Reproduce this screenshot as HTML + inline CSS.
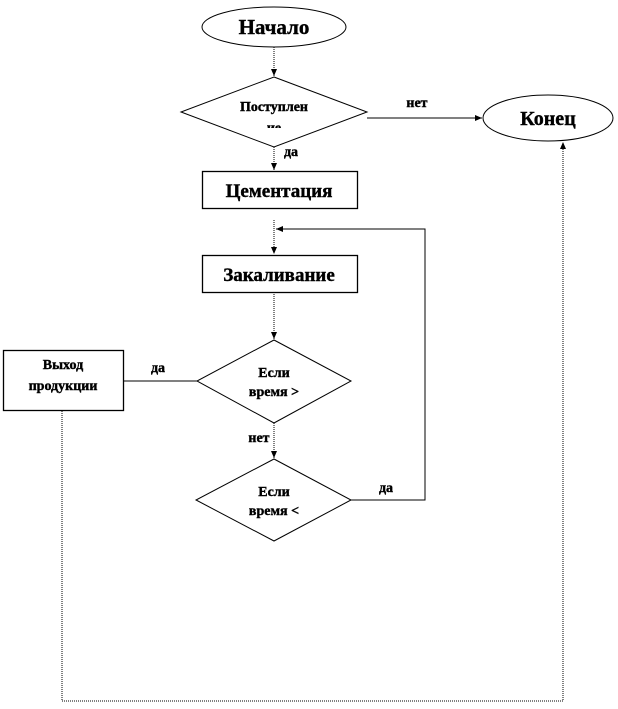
<!DOCTYPE html>
<html><head><meta charset="utf-8"><style>
html,body{margin:0;padding:0;background:#fff;}
text{font-family:"Liberation Serif",serif;font-weight:bold;fill:#000;stroke:#000;stroke-width:0.4;}
</style></head><body>
<svg width="618" height="704" viewBox="0 0 618 704" xmlns="http://www.w3.org/2000/svg">
<defs><marker id="a" markerWidth="8" markerHeight="8" refX="7" refY="4" orient="auto" markerUnits="userSpaceOnUse"><path d="M0,1 L7,4 L0,7 z" fill="#000"/></marker>
<clipPath id="c"><rect x="0" y="0" width="618" height="128"/></clipPath></defs>
<g fill="none" stroke="#000" stroke-width="1">
<ellipse cx="274" cy="27" rx="72" ry="20"/>
<polygon points="274,77 367,112 274,147 181,112"/>
<ellipse cx="548" cy="118" rx="65" ry="23"/>
<rect x="202.5" y="171.5" width="155" height="37" stroke-width="1.3"/>
<rect x="202.5" y="255.5" width="155" height="37" stroke-width="1.3"/>
<polygon points="274,340 351,381 274,423 197,381"/>
<polygon points="274,459 351,500 274,541 196,500"/>
<rect x="3.5" y="350.5" width="120" height="60" stroke-width="1.3"/>
<line x1="274" y1="47" x2="274" y2="76" stroke-dasharray="1,1" marker-end="url(#a)"/>
<line x1="367" y1="118" x2="482" y2="118" marker-end="url(#a)"/>
<line x1="274" y1="147" x2="274" y2="170" stroke-dasharray="1,1" marker-end="url(#a)"/>
<line x1="274" y1="220" x2="274" y2="254" stroke-dasharray="1,1" marker-end="url(#a)"/>
<line x1="274" y1="292" x2="274" y2="339" stroke-dasharray="1,1" marker-end="url(#a)"/>
<line x1="274" y1="423" x2="274" y2="458" stroke-dasharray="1,1" marker-end="url(#a)"/>
<line x1="123" y1="381" x2="197" y2="381"/>
<polyline points="351,500 425,500 425,229 276,229" marker-end="url(#a)"/>
<polyline points="62,411 62,701 563,701 563,142" stroke-dasharray="1,1" marker-end="url(#a)"/>
</g>
<text x="274" y="34" font-size="21" text-anchor="middle">Начало</text>
<text x="548" y="125" font-size="20" text-anchor="middle">Конец</text>
<text x="274" y="111" font-size="14" text-anchor="middle">Поступлен</text>
<text x="274" y="132" font-size="14" text-anchor="middle" clip-path="url(#c)">ие</text>
<text x="417" y="107" font-size="14" text-anchor="middle">нет</text>
<text x="291" y="156" font-size="14" text-anchor="middle">да</text>
<text x="279" y="197" font-size="19" text-anchor="middle">Цементация</text>
<text x="279" y="281" font-size="19" text-anchor="middle">Закаливание</text>
<text x="274" y="377" font-size="14" text-anchor="middle">Если</text>
<text x="274" y="396" font-size="14" text-anchor="middle">время &gt;</text>
<text x="274" y="496" font-size="14" text-anchor="middle">Если</text>
<text x="274" y="515" font-size="14" text-anchor="middle">время &lt;</text>
<text x="63" y="369" font-size="14" text-anchor="middle">Выход</text>
<text x="63" y="390" font-size="14" text-anchor="middle">продукции</text>
<text x="158" y="372" font-size="14" text-anchor="middle">да</text>
<text x="259" y="442" font-size="14" text-anchor="middle">нет</text>
<text x="386" y="492" font-size="14" text-anchor="middle">да</text>
</svg>
</body></html>
